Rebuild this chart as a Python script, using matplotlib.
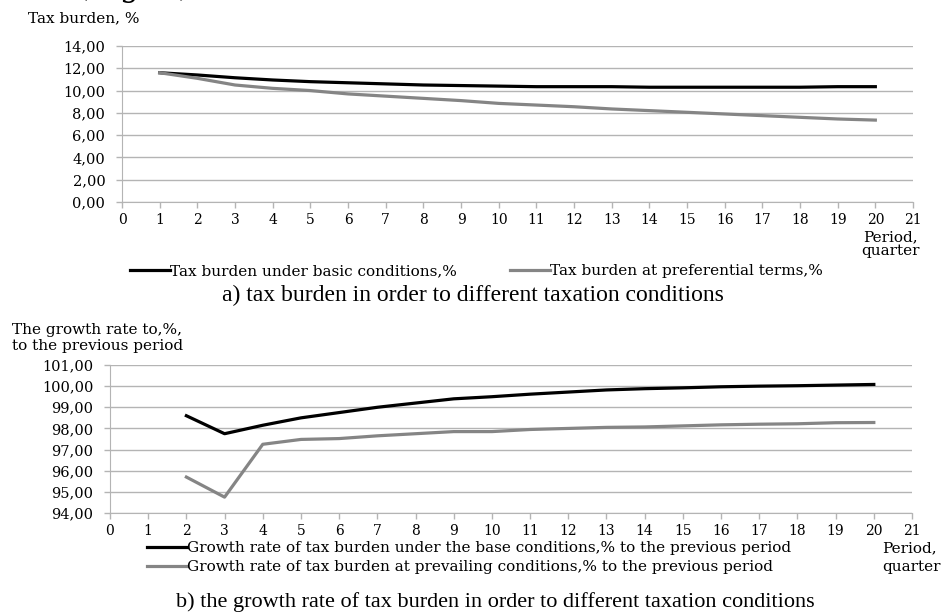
import matplotlib.pyplot as plt
from matplotlib.ticker import FuncFormatter, MultipleLocator

plt.rcParams['font.family'] = ['DejaVu Serif']

# panel a) tax burden, %
periods_a = list(range(1, 21))
burden_basic = [11.6, 11.4, 11.15, 10.95, 10.8, 10.7, 10.6, 10.5, 10.45, 10.4,
                10.35, 10.35, 10.35, 10.3, 10.3, 10.3, 10.3, 10.3, 10.35, 10.35]
burden_pref = [11.6, 11.1, 10.5, 10.2, 10.0, 9.7, 9.5, 9.3, 9.1, 8.85,
               8.7, 8.55, 8.35, 8.2, 8.05, 7.9, 7.75, 7.6, 7.45, 7.35]

# panel b) growth rate, % to previous period
periods_b = list(range(2, 21))
growth_base = [98.6, 97.75, 98.15, 98.5, 98.75, 99.0, 99.2, 99.4, 99.5, 99.62,
               99.72, 99.82, 99.88, 99.92, 99.97, 100.0, 100.02, 100.05, 100.08]
growth_prev = [95.7, 94.75, 97.25, 97.48, 97.52, 97.65, 97.75, 97.85, 97.85, 97.95,
               98.0, 98.05, 98.07, 98.12, 98.17, 98.2, 98.22, 98.27, 98.28]

W, H = 941, 614
fig = plt.figure(figsize=(W / 100, H / 100), dpi=100)


def box(l, t, r, b):
    return [l / W, 1 - b / H, (r - l) / W, (b - t) / H]


def fy(y):
    return 1 - y / H


comma = FuncFormatter(lambda v, p: f'{v:.2f}'.replace('.', ','))
grid_c = '#b4b4b4'
FS = 11


def style(ax, ymin, ymax, step):
    ax.set_xlim(0, 21)
    ax.set_ylim(ymin, ymax)
    ax.xaxis.set_major_locator(MultipleLocator(1))
    ax.yaxis.set_major_locator(MultipleLocator(step))
    ax.yaxis.set_major_formatter(comma)
    ax.grid(axis='y', color=grid_c, linewidth=1)
    ax.set_axisbelow(True)
    for s in ['top', 'right']:
        ax.spines[s].set_visible(False)
    for s in ['left', 'bottom']:
        ax.spines[s].set_color(grid_c)
    ax.tick_params(axis='both', colors=grid_c, labelcolor='black', length=4, width=1)
    ax.tick_params(axis='x', labelsize=10, pad=4)
    ax.tick_params(axis='y', labelsize=10.5, pad=8)


def legend_at(handle, label, x, y):
    fig.legend([handle], [label], loc='center left', bbox_to_anchor=(x / W, fy(y)),
               bbox_transform=fig.transFigure, frameon=False, fontsize=FS,
               handlelength=2.6, handletextpad=0.05, borderaxespad=0, borderpad=0)


# ---- top panel
ax1 = fig.add_axes(box(122, 46, 913, 202))
l1, = ax1.plot(periods_a, burden_basic, color='black', lw=2.3)
l2, = ax1.plot(periods_a, burden_pref, color='#858585', lw=2.3)
style(ax1, 0, 14, 2)
legend_at(l1, 'Tax burden under basic conditions,%', 130, 271)
legend_at(l2, 'Tax burden at preferential terms,%', 510, 271)

fig.text(28 / W, fy(18), 'Tax burden, %', fontsize=FS, va='center')
fig.text(890 / W, fy(237), 'Period,', fontsize=FS, ha='center', va='center')
fig.text(890 / W, fy(251), 'quarter', fontsize=FS, ha='center', va='center')
fig.text(473 / W, fy(295), 'a) tax burden in order to different taxation conditions',
         fontsize=17, family='Liberation Serif', ha='center', va='center')
fig.text(77 / W, fy(-4), '(Fig. 3)', fontsize=22, va='baseline')

# ---- bottom panel
ax2 = fig.add_axes(box(110, 365, 912, 513))
l3, = ax2.plot(periods_b, growth_base, color='black', lw=2.3)
l4, = ax2.plot(periods_b, growth_prev, color='#858585', lw=2.3)
style(ax2, 94, 101, 1)
legend_at(l3, 'Growth rate of tax burden under the base conditions,% to the previous period', 147, 548)
legend_at(l4, 'Growth rate of tax burden at prevailing conditions,% to the previous period', 147, 567)

fig.text(12 / W, fy(330), 'The growth rate to,%,', fontsize=FS, va='center')
fig.text(12 / W, fy(346), 'to the previous period', fontsize=FS, va='center')
fig.text(882 / W, fy(548), 'Period,', fontsize=FS, va='center')
fig.text(882 / W, fy(567), 'quarter', fontsize=FS, va='center')
fig.text(495 / W, fy(602), 'b) the growth rate of tax burden in order to different taxation conditions',
         fontsize=16, family='Liberation Serif', ha='center', va='center')

fig.savefig('out.png', dpi=100)
plt.close(fig)
